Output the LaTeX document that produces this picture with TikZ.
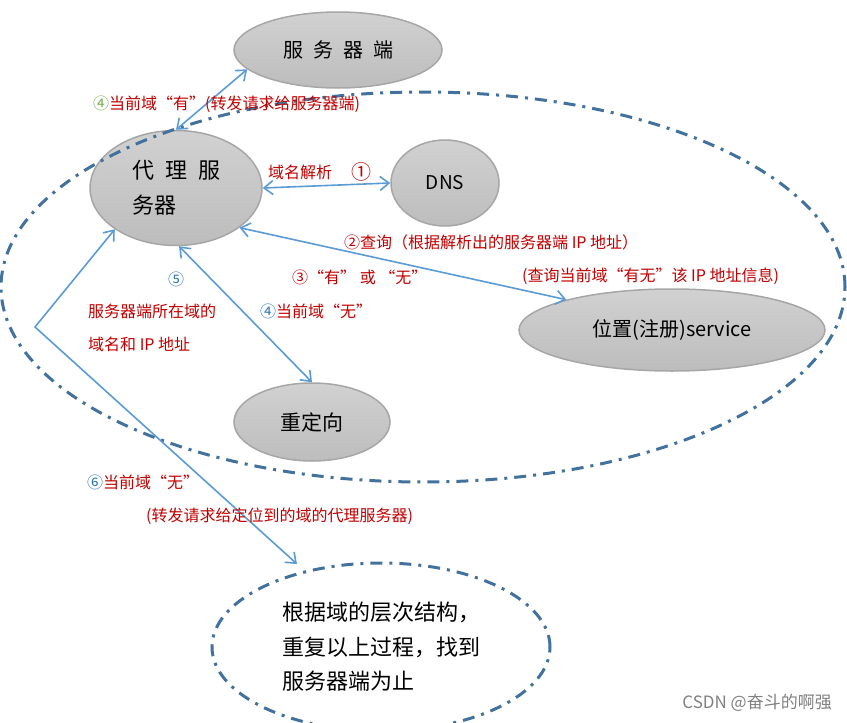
\documentclass[tikz,border=0pt]{standalone}
\usepackage{fontspec}
\setmainfont{Noto Sans CJK SC}
\usepackage{tikz}
\usetikzlibrary{arrows.meta,shapes.geometric}

\definecolor{lianblue}{RGB}{91,155,213}
\definecolor{yublue}{RGB}{65,113,156}
\definecolor{biaored}{RGB}{192,0,0}
\definecolor{quangreen}{RGB}{112,173,71}
\definecolor{quanblue}{RGB}{46,117,182}
\newcommand{\gap}{\hspace{.5em}}

\begin{document}
\begin{tikzpicture}[x=1pt, y=-1pt, >={Straight Barb[length=9pt,width=14pt]},
    jiedian/.style={ellipse, draw=gray!70, line width=1.5pt, top color=gray!36, bottom color=gray!52, inner sep=0pt},
    lian/.style={<->, draw=lianblue, line width=1.6pt},
    yu/.style={draw=yublue, line width=3pt, dash pattern=on 12pt off 7pt on 3pt off 7pt},
    biao/.style={text=biaored, font=\fontsize{16}{20}\selectfont, inner sep=0pt, anchor=west}]
    \useasboundingbox (0,0) rectangle (847,723);

    % 各个服务器
    \node[jiedian, minimum width=208pt, minimum height=76pt, font=\fontsize{20}{24}\selectfont] (fuwu) at (338,50) {服\gap 务\gap 器\gap 端};
    \node[jiedian, minimum width=172pt, minimum height=115pt, font=\fontsize{22}{35}\selectfont, align=left] (daili) at (176,188) {代\gap 理\gap 服\\务器};
    \node[jiedian, minimum width=108pt, minimum height=86pt, font=\fontsize{19}{23}\selectfont] (dns) at (445,183) {DNS};
    \node[jiedian, minimum width=306pt, minimum height=82pt, font=\fontsize{20}{24}\selectfont] (weizhi) at (672,330) {位置(注册)service};
    \node[jiedian, minimum width=156pt, minimum height=78pt, font=\fontsize{21}{25}\selectfont] (chongding) at (312,422) {重定向};

    % 当前域的范围
    \draw[yu] (423,287) ellipse [x radius=422pt, y radius=195pt];

    % 上一层的域
    \node[ellipse, yu, minimum width=338pt, minimum height=168pt, inner sep=0pt, align=left, font=\fontsize{22}{34.5}\selectfont] (zhaodao) at (381,647) {根据域的层次结构，\\重复以上过程，找到\\服务器端为止};

    % 请求的往返
    \draw[lian] (daili.north) -- (fuwu.192);
    \draw[lian] (daili.east) -- (dns.west);
    \draw[lian] (daili.-32) -- (weizhi.164);
    \draw[lian] (daili.-87) -- (chongding.north);
    \coordinate (guai) at (35,327);
    \coordinate (jiantou) at (297,564);
    \draw[lian] (daili.214) -- (guai) -- (jiantou);

    % 步骤说明
    \node[biao] (l4you) at (93,104) {{\color{quangreen}④}当前域“有”(转发请求给服务器端)};
    \node[biao] (ljiexi) at (268,172) {域名解析};
    \node[biao, font=\fontsize{20}{24}\selectfont] (l1) at (351,172) {①};
    \node[biao] (l2) at (344,242) {②查询（根据解析出的服务器端 IP 地址）};
    \node[biao] (lchaxun) at (522,276) {(查询当前域“有无”该 IP 地址信息)};
    \node[biao] (l3) at (292,277) {③“有” 或 “无”};
    \node[biao] (l4wu) at (260,311) {{\color{quanblue}④}当前域“无”};
    \node[biao, anchor=center] (l5) at (176,279) {{\color{quanblue}⑤}};
    \node[biao] (lsuozai) at (88,311) {服务器端所在域的};
    \node[biao] (lip) at (88,344) {域名和 IP 地址};
    \node[biao] (l6) at (87,482) {{\color{quanblue}⑥}当前域“无”};
    \node[biao] (lzhuanfa) at (146,516) {(转发请求给定位到的域的代理服务器)};
    \node[anchor=east, inner sep=0pt, text=gray, font=\fontsize{17}{20}\selectfont] (shuiyin) at (832,703) {CSDN @奋斗的啊强};
\end{tikzpicture}
\end{document}
